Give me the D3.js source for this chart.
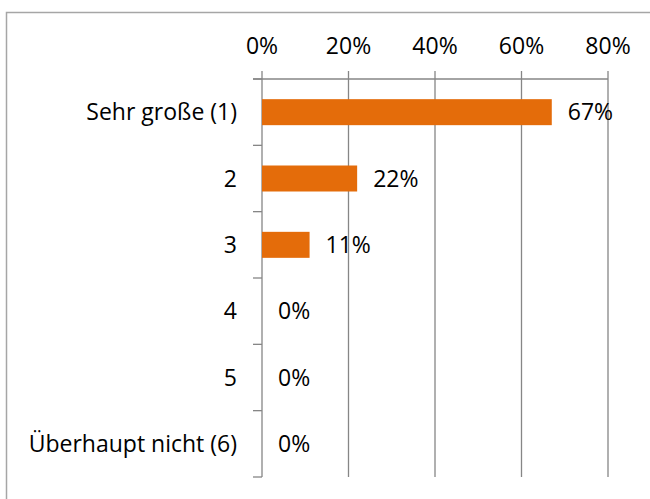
<!DOCTYPE html>
<html lang="de">
    <head>
        <meta charset="utf-8">
        <title>Bar chart</title>
        <script src="https://d3js.org/d3.v7.min.js"></script>
        <style type="text/css">
            body { margin: 0; background: #fff; }
            text {
              font-family: "Open Sans", "Liberation Sans", sans-serif;
              font-size: 23px;
              fill: #000;
            }
            .grid line { stroke: #868686; stroke-width: 1.3; }
        </style>
    </head>
    <body>
        <div id="chart"></div>
        <script type="text/javascript">

        //DATA
            const categories = ["Sehr große (1)", "2", "3", "4", "5", "Überhaupt nicht (6)"];
            const values = [0.67, 0.22, 0.11, 0, 0, 0];
            const valueLabels = ["67%", "22%", "11%", "0%", "0%", "0%"];
            const xTicks = [0, 0.2, 0.4, 0.6, 0.8];

        //CONSTANTS
            const w = 650;
            const h = 499;
            const plotLeft = 262, plotRight = 608;
            const plotTop = 79, plotBottom = 477;

            const svg = d3.select("#chart")
                    .append("svg")
                    .attr("width", w)
                    .attr("height", h);

            //OUTER BORDER
            svg.append("rect")
                .attr("x", 6.5)
                .attr("y", 12.5)
                .attr("width", 700)
                .attr("height", 600)
                .attr("fill", "none")
                .attr("stroke", "#a6a6a6")
                .attr("stroke-width", 1.5);

            //SCALES
            const xScale = d3.scaleLinear()
                            .domain([0, 0.8])
                            .range([plotLeft, plotRight]);

            const yScale = d3.scaleBand()
                            .domain(categories)
                            .range([plotTop, plotBottom])
                            .paddingInner(0.608)
                            .paddingOuter(0.304);

            //GRIDLINES (vertical, incl. top tick marks)
            svg.append("g")
                .attr("class", "grid")
                .selectAll("line")
                .data(xTicks)
                .enter()
                .append("line")
                .attr("x1", d => xScale(d))
                .attr("x2", d => xScale(d))
                .attr("y1", plotTop - 8)
                .attr("y2", plotBottom);

            //TOP AXIS LINE
            svg.append("g")
                .attr("class", "grid")
                .append("line")
                .attr("x1", plotLeft - 9)
                .attr("x2", plotRight)
                .attr("y1", plotTop)
                .attr("y2", plotTop);

            //CATEGORY TICKS
            const step = (plotBottom - plotTop) / categories.length;
            svg.append("g")
                .attr("class", "grid")
                .selectAll("line")
                .data(d3.range(categories.length + 1))
                .enter()
                .append("line")
                .attr("x1", plotLeft - 9)
                .attr("x2", plotLeft)
                .attr("y1", i => plotTop + i * step)
                .attr("y2", i => plotTop + i * step);

            //TOP TICK LABELS
            svg.append("g")
                .selectAll("text")
                .data(xTicks)
                .enter()
                .append("text")
                .attr("x", d => xScale(d))
                .attr("y", 54)
                .attr("text-anchor", "middle")
                .text(d3.format(".0%"));

            //BARS
            svg.selectAll("rect.bar")
                .data(values)
                .enter()
                .append("rect")
                .attr("class", "bar")
                .attr("x", xScale(0))
                .attr("y", (d, i) => yScale(categories[i]))
                .attr("width", d => xScale(d) - xScale(0))
                .attr("height", yScale.bandwidth())
                .attr("fill", "#e46c0a");

            //CATEGORY LABELS
            svg.append("g")
                .selectAll("text")
                .data(categories)
                .enter()
                .append("text")
                .attr("x", plotLeft - 25)
                .attr("y", d => yScale(d) + yScale.bandwidth() / 2)
                .attr("dy", "0.36em")
                .attr("text-anchor", "end")
                .text(d => d);

            //VALUE LABELS
            svg.append("g")
                .selectAll("text")
                .data(values)
                .enter()
                .append("text")
                .attr("x", d => xScale(d) + 16)
                .attr("y", (d, i) => yScale(categories[i]) + yScale.bandwidth() / 2)
                .attr("dy", "0.36em")
                .text((d, i) => valueLabels[i]);
        </script>
    </body>
</html>
